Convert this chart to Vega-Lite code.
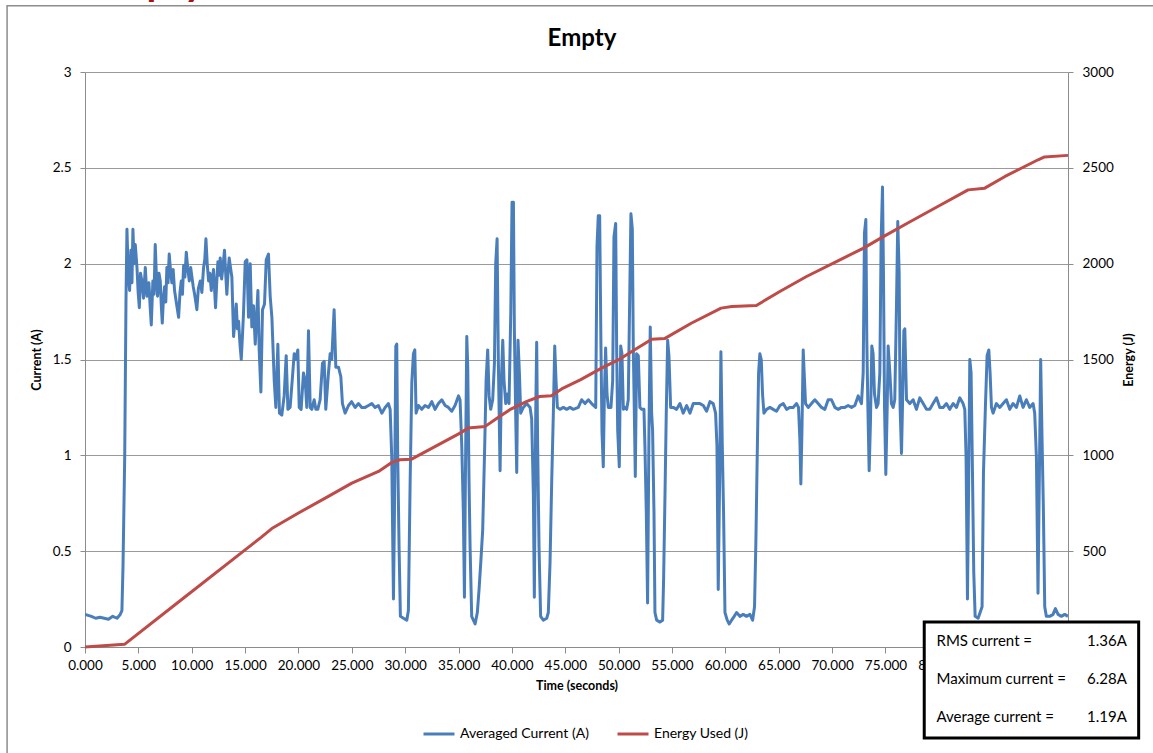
{
  "$schema": "https://vega.github.io/schema/vega-lite/v6.json",
  "width": 983,
  "height": 575,
  "autosize": {"type": "none"},
  "padding": {"left": 85, "top": 72, "right": 85, "bottom": 106},
  "background": "white",
  "config": {
    "font": "Lato",
    "view": {"stroke": null},
    "axis": {
      "labelFont": "Lato",
      "titleFont": "Lato",
      "labelColor": "black",
      "titleColor": "black",
      "labelFontSize": 13.5,
      "titleFontSize": 12.5,
      "titleFontWeight": "bold",
      "domainColor": "#8c8c8c",
      "tickColor": "#8c8c8c",
      "gridColor": "#9a9a9a",
      "labelFlush": false,
      "labelOverlap": false
    }
  },
  "datasets": {
    "current": [
      {"time": 0, "current": 0.17}, {"time": 0.3, "current": 0.165}, {"time": 0.6, "current": 0.16}, {"time": 1.0, "current": 0.15}, {"time": 1.4, "current": 0.155}, {"time": 1.8, "current": 0.15}, {"time": 2.2, "current": 0.145}, {"time": 2.6, "current": 0.16}, {"time": 3.0, "current": 0.15}, {"time": 3.3, "current": 0.17}, {"time": 3.46, "current": 0.19}, {"time": 3.56, "current": 0.42}, {"time": 3.72, "current": 0.99}, {"time": 3.84, "current": 1.81}, {"time": 3.93, "current": 2.18}, {"time": 4.05, "current": 1.95}, {"time": 4.18, "current": 1.86}, {"time": 4.30, "current": 2.07}, {"time": 4.40, "current": 1.9}, {"time": 4.49, "current": 2.18}, {"time": 4.60, "current": 2.0}, {"time": 4.71, "current": 2.10}, {"time": 4.87, "current": 1.98}, {"time": 4.98, "current": 1.85}, {"time": 5.09, "current": 1.77}, {"time": 5.20, "current": 1.95}, {"time": 5.33, "current": 1.91}, {"time": 5.48, "current": 1.82}, {"time": 5.65, "current": 1.98}, {"time": 5.80, "current": 1.83}, {"time": 5.99, "current": 1.90}, {"time": 6.10, "current": 1.78}, {"time": 6.21, "current": 1.68}, {"time": 6.36, "current": 1.91}, {"time": 6.47, "current": 1.84}, {"time": 6.58, "current": 2.10}, {"time": 6.70, "current": 1.92}, {"time": 6.80, "current": 1.83}, {"time": 6.93, "current": 1.95}, {"time": 7.05, "current": 1.91}, {"time": 7.15, "current": 1.78}, {"time": 7.24, "current": 1.69}, {"time": 7.35, "current": 1.82}, {"time": 7.46, "current": 1.88}, {"time": 7.57, "current": 1.80}, {"time": 7.67, "current": 1.98}, {"time": 7.78, "current": 1.90}, {"time": 7.89, "current": 2.05}, {"time": 8.02, "current": 1.96}, {"time": 8.14, "current": 1.90}, {"time": 8.26, "current": 1.97}, {"time": 8.39, "current": 1.86}, {"time": 8.55, "current": 1.80}, {"time": 8.77, "current": 1.72}, {"time": 8.90, "current": 1.85}, {"time": 9.02, "current": 1.91}, {"time": 9.13, "current": 1.84}, {"time": 9.24, "current": 1.99}, {"time": 9.36, "current": 1.93}, {"time": 9.49, "current": 2.06}, {"time": 9.62, "current": 1.98}, {"time": 9.77, "current": 1.91}, {"time": 9.90, "current": 1.98}, {"time": 10.02, "current": 1.93}, {"time": 10.14, "current": 1.88}, {"time": 10.27, "current": 1.84}, {"time": 10.38, "current": 1.80}, {"time": 10.48, "current": 1.76}, {"time": 10.62, "current": 1.87}, {"time": 10.80, "current": 1.91}, {"time": 10.95, "current": 1.85}, {"time": 11.11, "current": 1.98}, {"time": 11.22, "current": 2.02}, {"time": 11.33, "current": 2.13}, {"time": 11.45, "current": 2.0}, {"time": 11.58, "current": 1.91}, {"time": 11.70, "current": 1.95}, {"time": 11.83, "current": 1.86}, {"time": 11.94, "current": 1.92}, {"time": 12.04, "current": 1.97}, {"time": 12.13, "current": 1.88}, {"time": 12.23, "current": 1.77}, {"time": 12.34, "current": 1.90}, {"time": 12.45, "current": 2.01}, {"time": 12.56, "current": 1.94}, {"time": 12.67, "current": 2.03}, {"time": 12.80, "current": 1.92}, {"time": 12.92, "current": 1.98}, {"time": 13.07, "current": 2.07}, {"time": 13.18, "current": 1.95}, {"time": 13.29, "current": 1.84}, {"time": 13.40, "current": 1.95}, {"time": 13.51, "current": 2.03}, {"time": 13.63, "current": 1.98}, {"time": 13.76, "current": 1.93}, {"time": 13.92, "current": 1.62}, {"time": 14.05, "current": 1.70}, {"time": 14.17, "current": 1.79}, {"time": 14.28, "current": 1.66}, {"time": 14.39, "current": 1.70}, {"time": 14.52, "current": 1.58}, {"time": 14.64, "current": 1.50}, {"time": 14.75, "current": 1.62}, {"time": 14.85, "current": 1.74},
      {"time": 15.01, "current": 2.01}, {"time": 15.17, "current": 2.02}, {"time": 15.32, "current": 1.72}, {"time": 15.48, "current": 2.0}, {"time": 15.63, "current": 1.67}, {"time": 15.79, "current": 1.78}, {"time": 15.95, "current": 1.58}, {"time": 16.20, "current": 1.86}, {"time": 16.32, "current": 1.55}, {"time": 16.48, "current": 1.33}, {"time": 16.63, "current": 1.76}, {"time": 16.82, "current": 1.79}, {"time": 16.98, "current": 2.02}, {"time": 17.19, "current": 2.05}, {"time": 17.35, "current": 1.83}, {"time": 17.51, "current": 1.72}, {"time": 17.73, "current": 1.39}, {"time": 17.88, "current": 1.25}, {"time": 18.07, "current": 1.58}, {"time": 18.22, "current": 1.22}, {"time": 18.44, "current": 1.21}, {"time": 18.66, "current": 1.31}, {"time": 18.85, "current": 1.52}, {"time": 19.01, "current": 1.24}, {"time": 19.22, "current": 1.25}, {"time": 19.44, "current": 1.41}, {"time": 19.60, "current": 1.53}, {"time": 19.75, "current": 1.50}, {"time": 19.94, "current": 1.55}, {"time": 20.07, "current": 1.25}, {"time": 20.25, "current": 1.24}, {"time": 20.47, "current": 1.43}, {"time": 20.63, "current": 1.39}, {"time": 20.78, "current": 1.25}, {"time": 20.94, "current": 1.65}, {"time": 21.10, "current": 1.25}, {"time": 21.25, "current": 1.24}, {"time": 21.47, "current": 1.29}, {"time": 21.63, "current": 1.24}, {"time": 21.81, "current": 1.24}, {"time": 22.03, "current": 1.29}, {"time": 22.25, "current": 1.48}, {"time": 22.41, "current": 1.49}, {"time": 22.56, "current": 1.24}, {"time": 22.81, "current": 1.43}, {"time": 22.97, "current": 1.53}, {"time": 23.12, "current": 1.50}, {"time": 23.34, "current": 1.76}, {"time": 23.50, "current": 1.46}, {"time": 23.75, "current": 1.46}, {"time": 23.97, "current": 1.41}, {"time": 24.12, "current": 1.27}, {"time": 24.37, "current": 1.22}, {"time": 24.69, "current": 1.26}, {"time": 24.98, "current": 1.28}, {"time": 25.31, "current": 1.25}, {"time": 25.62, "current": 1.27}, {"time": 25.93, "current": 1.25}, {"time": 26.25, "current": 1.25}, {"time": 26.56, "current": 1.26}, {"time": 26.87, "current": 1.27}, {"time": 27.18, "current": 1.25}, {"time": 27.49, "current": 1.26}, {"time": 27.81, "current": 1.22}, {"time": 28.12, "current": 1.25}, {"time": 28.43, "current": 1.27}, {"time": 28.59, "current": 1.24}, {"time": 28.74, "current": 0.99}, {"time": 28.90, "current": 0.25}, {"time": 28.99, "current": 0.68}, {"time": 29.12, "current": 1.57}, {"time": 29.21, "current": 1.58}, {"time": 29.30, "current": 0.99}, {"time": 29.43, "current": 0.51}, {"time": 29.55, "current": 0.16}, {"time": 29.84, "current": 0.15}, {"time": 30.15, "current": 0.14}, {"time": 30.30, "current": 0.19}, {"time": 30.46, "current": 0.85}, {"time": 30.62, "current": 1.38}, {"time": 30.77, "current": 1.53},
      {"time": 30.90, "current": 1.55}, {"time": 31.02, "current": 1.22}, {"time": 31.24, "current": 1.26}, {"time": 31.55, "current": 1.24}, {"time": 31.86, "current": 1.26}, {"time": 32.18, "current": 1.25}, {"time": 32.49, "current": 1.28}, {"time": 32.80, "current": 1.24}, {"time": 33.11, "current": 1.27}, {"time": 33.43, "current": 1.29}, {"time": 33.74, "current": 1.26}, {"time": 34.05, "current": 1.25}, {"time": 34.36, "current": 1.23}, {"time": 34.67, "current": 1.26}, {"time": 34.99, "current": 1.31}, {"time": 35.14, "current": 1.29}, {"time": 35.30, "current": 1.05}, {"time": 35.45, "current": 0.70}, {"time": 35.55, "current": 0.26}, {"time": 35.64, "current": 0.87}, {"time": 35.77, "current": 1.62}, {"time": 35.86, "current": 1.46}, {"time": 35.98, "current": 0.87}, {"time": 36.08, "current": 0.52}, {"time": 36.23, "current": 0.16}, {"time": 36.55, "current": 0.12}, {"time": 36.76, "current": 0.18}, {"time": 36.92, "current": 0.30}, {"time": 37.08, "current": 0.44}, {"time": 37.26, "current": 0.61}, {"time": 37.45, "current": 1.05}, {"time": 37.58, "current": 1.39}, {"time": 37.73, "current": 1.55}, {"time": 37.86, "current": 1.31}, {"time": 38.01, "current": 1.24}, {"time": 38.20, "current": 1.29}, {"time": 38.36, "current": 1.48}, {"time": 38.48, "current": 2.0}, {"time": 38.61, "current": 2.13}, {"time": 38.73, "current": 1.48}, {"time": 38.89, "current": 0.92}, {"time": 39.01, "current": 1.39}, {"time": 39.14, "current": 1.60}, {"time": 39.26, "current": 1.39}, {"time": 39.42, "current": 1.27}, {"time": 39.57, "current": 1.32}, {"time": 39.73, "current": 1.27}, {"time": 39.89, "current": 1.74}, {"time": 40.01, "current": 2.32}, {"time": 40.14, "current": 2.32}, {"time": 40.23, "current": 1.65}, {"time": 40.35, "current": 1.22}, {"time": 40.45, "current": 0.91}, {"time": 40.57, "current": 1.60}, {"time": 40.70, "current": 1.43}, {"time": 40.82, "current": 1.22}, {"time": 41.07, "current": 1.25}, {"time": 41.38, "current": 1.27}, {"time": 41.70, "current": 1.25}, {"time": 41.85, "current": 1.19}, {"time": 42.01, "current": 0.79}, {"time": 42.10, "current": 0.26}, {"time": 42.23, "current": 1.22}, {"time": 42.32, "current": 1.59}, {"time": 42.41, "current": 1.05}, {"time": 42.54, "current": 0.52}, {"time": 42.69, "current": 0.16}, {"time": 42.94, "current": 0.14}, {"time": 43.26, "current": 0.15}, {"time": 43.41, "current": 0.18}, {"time": 43.57, "current": 0.44}, {"time": 43.73, "current": 0.87}, {"time": 43.88, "current": 1.22}, {"time": 44.01, "current": 1.57}, {"time": 44.13, "current": 1.39}, {"time": 44.26, "current": 1.25}, {"time": 44.50, "current": 1.24}, {"time": 44.82, "current": 1.25}, {"time": 45.13, "current": 1.24}, {"time": 45.44, "current": 1.25}, {"time": 45.75, "current": 1.24},
      {"time": 46.22, "current": 1.25}, {"time": 46.53, "current": 1.29}, {"time": 46.85, "current": 1.27}, {"time": 47.16, "current": 1.29}, {"time": 47.47, "current": 1.27}, {"time": 47.85, "current": 1.25}, {"time": 47.97, "current": 2.09}, {"time": 48.09, "current": 2.25}, {"time": 48.22, "current": 2.25}, {"time": 48.34, "current": 1.57}, {"time": 48.44, "current": 1.12}, {"time": 48.56, "current": 0.94}, {"time": 48.66, "current": 1.31}, {"time": 48.78, "current": 1.56}, {"time": 48.91, "current": 1.32}, {"time": 49.03, "current": 1.25}, {"time": 49.28, "current": 1.25}, {"time": 49.44, "current": 1.39}, {"time": 49.56, "current": 2.14}, {"time": 49.72, "current": 2.21}, {"time": 49.81, "current": 1.57}, {"time": 49.91, "current": 1.13}, {"time": 50.06, "current": 0.94}, {"time": 50.19, "current": 1.57}, {"time": 50.31, "current": 1.53}, {"time": 50.44, "current": 1.24}, {"time": 50.59, "current": 1.25}, {"time": 50.75, "current": 1.24}, {"time": 50.90, "current": 1.29}, {"time": 51.06, "current": 1.92}, {"time": 51.15, "current": 2.26}, {"time": 51.28, "current": 2.18}, {"time": 51.37, "current": 1.57}, {"time": 51.47, "current": 1.22}, {"time": 51.56, "current": 0.89}, {"time": 51.68, "current": 1.53}, {"time": 51.84, "current": 1.52}, {"time": 51.99, "current": 1.25}, {"time": 52.15, "current": 1.24}, {"time": 52.37, "current": 1.24}, {"time": 52.46, "current": 1.05}, {"time": 52.59, "current": 0.70}, {"time": 52.71, "current": 0.23}, {"time": 52.84, "current": 1.13}, {"time": 52.96, "current": 1.67}, {"time": 53.09, "current": 1.22}, {"time": 53.18, "current": 1.13}, {"time": 53.31, "current": 0.70}, {"time": 53.40, "current": 0.18}, {"time": 53.56, "current": 0.14}, {"time": 53.87, "current": 0.13}, {"time": 54.12, "current": 0.14}, {"time": 54.21, "current": 0.35}, {"time": 54.34, "current": 0.79}, {"time": 54.46, "current": 1.22}, {"time": 54.59, "current": 1.60}, {"time": 54.71, "current": 1.52}, {"time": 54.87, "current": 1.25}, {"time": 55.12, "current": 1.25}, {"time": 55.43, "current": 1.24}, {"time": 55.74, "current": 1.27}, {"time": 56.05, "current": 1.22}, {"time": 56.37, "current": 1.26}, {"time": 56.68, "current": 1.22}, {"time": 56.99, "current": 1.27}, {"time": 57.30, "current": 1.27}, {"time": 57.61, "current": 1.27}, {"time": 57.93, "current": 1.26}, {"time": 58.24, "current": 1.23}, {"time": 58.55, "current": 1.28}, {"time": 58.86, "current": 1.27}, {"time": 59.08, "current": 1.22}, {"time": 59.21, "current": 1.05}, {"time": 59.33, "current": 0.30}, {"time": 59.46, "current": 0.87}, {"time": 59.58, "current": 1.54}, {"time": 59.71, "current": 1.05}, {"time": 59.83, "current": 0.70}, {"time": 59.96, "current": 0.18}, {"time": 60.17, "current": 0.14}, {"time": 60.36, "current": 0.12}, {"time": 60.58, "current": 0.14}, {"time": 60.83, "current": 0.16}, {"time": 61.05, "current": 0.18},
      {"time": 61.36, "current": 0.16}, {"time": 61.67, "current": 0.17}, {"time": 61.98, "current": 0.16}, {"time": 62.30, "current": 0.17}, {"time": 62.55, "current": 0.14}, {"time": 62.73, "current": 0.21}, {"time": 62.86, "current": 0.56}, {"time": 62.98, "current": 0.99}, {"time": 63.11, "current": 1.43}, {"time": 63.23, "current": 1.53}, {"time": 63.36, "current": 1.50}, {"time": 63.48, "current": 1.32}, {"time": 63.61, "current": 1.22}, {"time": 63.86, "current": 1.24}, {"time": 64.17, "current": 1.25}, {"time": 64.48, "current": 1.24}, {"time": 64.79, "current": 1.23}, {"time": 65.11, "current": 1.26}, {"time": 65.42, "current": 1.27}, {"time": 65.73, "current": 1.24}, {"time": 66.04, "current": 1.25}, {"time": 66.35, "current": 1.25}, {"time": 66.67, "current": 1.27}, {"time": 66.85, "current": 1.25}, {"time": 66.98, "current": 1.08}, {"time": 67.07, "current": 0.85}, {"time": 67.17, "current": 1.12}, {"time": 67.29, "current": 1.55}, {"time": 67.38, "current": 1.43}, {"time": 67.51, "current": 1.27}, {"time": 67.76, "current": 1.25}, {"time": 68.07, "current": 1.27}, {"time": 68.38, "current": 1.29}, {"time": 68.69, "current": 1.27}, {"time": 69.01, "current": 1.25}, {"time": 69.32, "current": 1.24}, {"time": 69.63, "current": 1.29}, {"time": 69.94, "current": 1.29}, {"time": 70.26, "current": 1.25}, {"time": 70.57, "current": 1.24}, {"time": 70.88, "current": 1.25}, {"time": 71.19, "current": 1.25}, {"time": 71.50, "current": 1.26}, {"time": 71.82, "current": 1.25}, {"time": 72.13, "current": 1.26}, {"time": 72.44, "current": 1.31}, {"time": 72.75, "current": 1.27}, {"time": 72.91, "current": 1.43}, {"time": 73.03, "current": 2.16}, {"time": 73.16, "current": 2.23}, {"time": 73.25, "current": 1.60}, {"time": 73.35, "current": 1.25}, {"time": 73.47, "current": 0.92}, {"time": 73.59, "current": 1.17}, {"time": 73.72, "current": 1.57}, {"time": 73.84, "current": 1.53}, {"time": 73.97, "current": 1.32}, {"time": 74.16, "current": 1.25}, {"time": 74.31, "current": 1.27}, {"time": 74.47, "current": 1.43}, {"time": 74.59, "current": 2.12}, {"time": 74.72, "current": 2.40}, {"time": 74.81, "current": 1.95}, {"time": 74.91, "current": 1.25}, {"time": 75.03, "current": 0.90}, {"time": 75.16, "current": 1.25}, {"time": 75.25, "current": 1.57}, {"time": 75.41, "current": 1.43}, {"time": 75.56, "current": 1.27}, {"time": 75.72, "current": 1.25}, {"time": 75.87, "current": 1.29}, {"time": 76.03, "current": 1.78}, {"time": 76.15, "current": 2.22}, {"time": 76.28, "current": 1.95}, {"time": 76.37, "current": 1.25}, {"time": 76.50, "current": 1.01}, {"time": 76.59, "current": 1.25}, {"time": 76.72, "current": 1.65},
      {"time": 76.81, "current": 1.66}, {"time": 76.97, "current": 1.29}, {"time": 77.28, "current": 1.27}, {"time": 77.59, "current": 1.29}, {"time": 77.90, "current": 1.24}, {"time": 78.21, "current": 1.30}, {"time": 78.53, "current": 1.27}, {"time": 78.84, "current": 1.24}, {"time": 79.15, "current": 1.24}, {"time": 79.46, "current": 1.27}, {"time": 79.78, "current": 1.30}, {"time": 80.09, "current": 1.25}, {"time": 80.40, "current": 1.25}, {"time": 80.71, "current": 1.27}, {"time": 81.02, "current": 1.24}, {"time": 81.34, "current": 1.27}, {"time": 81.65, "current": 1.25}, {"time": 81.96, "current": 1.30}, {"time": 82.27, "current": 1.27}, {"time": 82.43, "current": 1.24}, {"time": 82.55, "current": 0.99}, {"time": 82.68, "current": 0.25}, {"time": 82.77, "current": 0.73}, {"time": 82.90, "current": 1.50}, {"time": 83.02, "current": 1.43}, {"time": 83.15, "current": 0.91}, {"time": 83.27, "current": 0.39}, {"time": 83.40, "current": 0.16}, {"time": 83.68, "current": 0.15}, {"time": 84.05, "current": 0.21}, {"time": 84.18, "current": 0.91}, {"time": 84.36, "current": 1.25}, {"time": 84.52, "current": 1.52}, {"time": 84.68, "current": 1.55}, {"time": 84.80, "current": 1.43}, {"time": 84.93, "current": 1.25}, {"time": 85.08, "current": 1.22}, {"time": 85.39, "current": 1.27}, {"time": 85.71, "current": 1.25}, {"time": 86.02, "current": 1.27}, {"time": 86.33, "current": 1.29}, {"time": 86.64, "current": 1.24}, {"time": 86.95, "current": 1.27}, {"time": 87.27, "current": 1.25}, {"time": 87.58, "current": 1.31}, {"time": 87.89, "current": 1.25}, {"time": 88.20, "current": 1.29}, {"time": 88.51, "current": 1.25}, {"time": 88.83, "current": 1.27}, {"time": 88.98, "current": 1.22}, {"time": 89.14, "current": 0.99}, {"time": 89.29, "current": 0.28}, {"time": 89.42, "current": 0.91}, {"time": 89.54, "current": 1.50}, {"time": 89.67, "current": 1.08}, {"time": 89.79, "current": 0.73}, {"time": 89.92, "current": 0.21}, {"time": 90.07, "current": 0.16}, {"time": 90.39, "current": 0.16}, {"time": 90.70, "current": 0.17}, {"time": 90.92, "current": 0.20}, {"time": 91.17, "current": 0.17}, {"time": 91.48, "current": 0.16}, {"time": 91.79, "current": 0.17}, {"time": 92.1, "current": 0.16}
    ],
    "energy": [
      {"time": 0, "energy": 0}, {"time": 3.7, "energy": 14}, {"time": 9, "energy": 245}, {"time": 15.0, "energy": 507}, {"time": 16.5, "energy": 572}, {"time": 17.5, "energy": 618}, {"time": 20, "energy": 699}, {"time": 22.8, "energy": 786}, {"time": 25, "energy": 855}, {"time": 27.5, "energy": 916}, {"time": 28.74, "energy": 963}, {"time": 29.5, "energy": 977}, {"time": 30.6, "energy": 980}, {"time": 35.14, "energy": 1116}, {"time": 35.9, "energy": 1142}, {"time": 37.5, "energy": 1151}, {"time": 38.6, "energy": 1194}, {"time": 39.8, "energy": 1238}, {"time": 41.4, "energy": 1281}, {"time": 42.6, "energy": 1307}, {"time": 43.7, "energy": 1311}, {"time": 44.8, "energy": 1351}, {"time": 46.4, "energy": 1394}, {"time": 48.4, "energy": 1455}, {"time": 50, "energy": 1499}, {"time": 51.5, "energy": 1551}, {"time": 53.1, "energy": 1606}, {"time": 54.3, "energy": 1609}, {"time": 56.8, "energy": 1689}, {"time": 59.6, "energy": 1768}, {"time": 60.6, "energy": 1776}, {"time": 62.9, "energy": 1782}, {"time": 65.1, "energy": 1855}, {"time": 67.6, "energy": 1933}, {"time": 70.4, "energy": 2011}, {"time": 72.9, "energy": 2080}, {"time": 74.8, "energy": 2141}, {"time": 77.3, "energy": 2219}, {"time": 79.9, "energy": 2298}, {"time": 82.74, "energy": 2385}, {"time": 84.3, "energy": 2394}, {"time": 86.2, "energy": 2455}, {"time": 89.3, "energy": 2542}, {"time": 89.9, "energy": 2557}, {"time": 92.1, "energy": 2565}
    ]
  },
  "layer": [
    {
      "layer": [
        {
          "data": {"values": [{}]},
          "mark": {"type": "rect", "fill": null, "fillOpacity": 0, "stroke": "#8c8c8c", "strokeWidth": 1.5},
          "encoding": {
            "x": {"datum": -7.3, "type": "quantitative", "scale": {"domain": [0, 92.1], "nice": false, "zero": false}},
            "x2": {"datum": 110},
            "y": {"datum": 3.346, "type": "quantitative", "scale": {"domain": [0, 3], "nice": false}},
            "y2": {"datum": -1}
          }
        },
        {
          "data": {"values": [{}]},
          "mark": {"type": "text", "text": "Empty", "font": "Lato", "fontSize": 40, "fontWeight": "bold", "color": "#A31515", "align": "left", "baseline": "alphabetic"},
          "encoding": {
            "x": {"datum": 0.5, "type": "quantitative", "scale": {"domain": [0, 92.1], "nice": false, "zero": false}},
            "y": {"datum": 3.404, "type": "quantitative", "scale": {"domain": [0, 3], "nice": false}}
          }
        },
        {
          "data": {"values": [{}]},
          "mark": {"type": "text", "text": "Empty", "font": "Lato", "fontSize": 24, "fontWeight": "bold", "color": "black", "align": "center", "baseline": "alphabetic"},
          "encoding": {
            "x": {"datum": 46.56, "type": "quantitative", "scale": {"domain": [0, 92.1], "nice": false, "zero": false}},
            "y": {"datum": 3.136, "type": "quantitative", "scale": {"domain": [0, 3], "nice": false}}
          }
        },
        {
          "data": {"name": "current"},
          "mark": {"type": "line", "strokeWidth": 3, "strokeJoin": "round", "clip": true},
          "encoding": {
            "x": {
              "field": "time", "type": "quantitative",
              "scale": {"domain": [0, 92.1], "nice": false, "zero": false},
              "axis": {
                "values": [0, 5, 10, 15, 20, 25, 30, 35, 40, 45, 50, 55, 60, 65, 70, 75, 80],
                "format": ".3f", "title": "Time (seconds)", "grid": false,
                "tickSize": 6, "labelPadding": 5, "titlePadding": 8
              }
            },
            "y": {
              "field": "current", "type": "quantitative",
              "scale": {"domain": [0, 3], "nice": false},
              "axis": {
                "values": [0, 0.5, 1, 1.5, 2, 2.5, 3], "format": "~g",
                "title": "Current (A)", "grid": true, "tickSize": 5,
                "labelPadding": 9, "titlePadding": 9
              }
            },
            "color": {
              "datum": "Averaged Current (A)",
              "scale": {"domain": ["Averaged Current (A)", "Energy Used (J)"], "range": ["#4A7EBB", "#BE4B48"]},
              "legend": {
                "orient": "none", "legendX": 337, "legendY": 645, "direction": "horizontal",
                "title": null, "symbolType": "stroke", "symbolStrokeWidth": 3, "symbolSize": 961,
                "labelFont": "Lato", "labelFontSize": 14, "labelColor": "black",
                "columnPadding": 22, "labelOffset": 4, "padding": 0
              }
            }
          }
        },
        {
          "data": {"values": [{}]},
          "mark": {"type": "rect", "fill": "white", "stroke": "black", "strokeWidth": 3},
          "encoding": {
            "x": {"datum": 78.63, "type": "quantitative", "scale": {"domain": [0, 92.1], "nice": false, "zero": false}},
            "x2": {"datum": 98.72},
            "y": {"datum": 0.130, "type": "quantitative", "scale": {"domain": [0, 3], "nice": false}},
            "y2": {"datum": -0.475}
          }
        },
        {
          "data": {"values": [{}]},
          "mark": {"type": "text", "text": "RMS current =", "font": "Lato", "fontSize": 15, "align": "left", "baseline": "middle", "color": "black"},
          "encoding": {
            "x": {"datum": 79.78, "type": "quantitative", "scale": {"domain": [0, 92.1], "nice": false, "zero": false}},
            "y": {"datum": 0.029, "type": "quantitative", "scale": {"domain": [0, 3], "nice": false}}
          }
        },
        {
          "data": {"values": [{}]},
          "mark": {"type": "text", "text": "Maximum current =", "font": "Lato", "fontSize": 15, "align": "left", "baseline": "middle", "color": "black"},
          "encoding": {
            "x": {"datum": 79.78, "type": "quantitative", "scale": {"domain": [0, 92.1], "nice": false, "zero": false}},
            "y": {"datum": -0.165, "type": "quantitative", "scale": {"domain": [0, 3], "nice": false}}
          }
        },
        {
          "data": {"values": [{}]},
          "mark": {"type": "text", "text": "Average current =", "font": "Lato", "fontSize": 15, "align": "left", "baseline": "middle", "color": "black"},
          "encoding": {
            "x": {"datum": 79.78, "type": "quantitative", "scale": {"domain": [0, 92.1], "nice": false, "zero": false}},
            "y": {"datum": -0.365, "type": "quantitative", "scale": {"domain": [0, 3], "nice": false}}
          }
        },
        {
          "data": {"values": [{}]},
          "mark": {"type": "text", "text": "1.36A", "font": "Lato", "fontSize": 15, "align": "right", "baseline": "middle", "color": "black"},
          "encoding": {
            "x": {"datum": 97.62, "type": "quantitative", "scale": {"domain": [0, 92.1], "nice": false, "zero": false}},
            "y": {"datum": 0.029, "type": "quantitative", "scale": {"domain": [0, 3], "nice": false}}
          }
        },
        {
          "data": {"values": [{}]},
          "mark": {"type": "text", "text": "6.28A", "font": "Lato", "fontSize": 15, "align": "right", "baseline": "middle", "color": "black"},
          "encoding": {
            "x": {"datum": 97.62, "type": "quantitative", "scale": {"domain": [0, 92.1], "nice": false, "zero": false}},
            "y": {"datum": -0.165, "type": "quantitative", "scale": {"domain": [0, 3], "nice": false}}
          }
        },
        {
          "data": {"values": [{}]},
          "mark": {"type": "text", "text": "1.19A", "font": "Lato", "fontSize": 15, "align": "right", "baseline": "middle", "color": "black"},
          "encoding": {
            "x": {"datum": 97.62, "type": "quantitative", "scale": {"domain": [0, 92.1], "nice": false, "zero": false}},
            "y": {"datum": -0.365, "type": "quantitative", "scale": {"domain": [0, 3], "nice": false}}
          }
        }
      ]
    },
    {
      "data": {"name": "energy"},
      "mark": {"type": "line", "strokeWidth": 3, "strokeJoin": "round"},
      "encoding": {
        "x": {"field": "time", "type": "quantitative", "scale": {"domain": [0, 92.1], "nice": false, "zero": false}},
        "y": {
          "field": "energy", "type": "quantitative",
          "scale": {"domain": [0, 3000], "nice": false},
          "axis": {
            "orient": "right", "values": [500, 1000, 1500, 2000, 2500, 3000],
            "format": "d", "title": "Energy (J)", "titleAngle": 270, "titleBaseline": "top", "grid": false,
            "tickSize": 5, "labelPadding": 9, "titlePadding": 9
          }
        },
        "color": {"datum": "Energy Used (J)"}
      }
    }
  ],
  "resolve": {"scale": {"y": "independent", "color": "shared"}}
}
